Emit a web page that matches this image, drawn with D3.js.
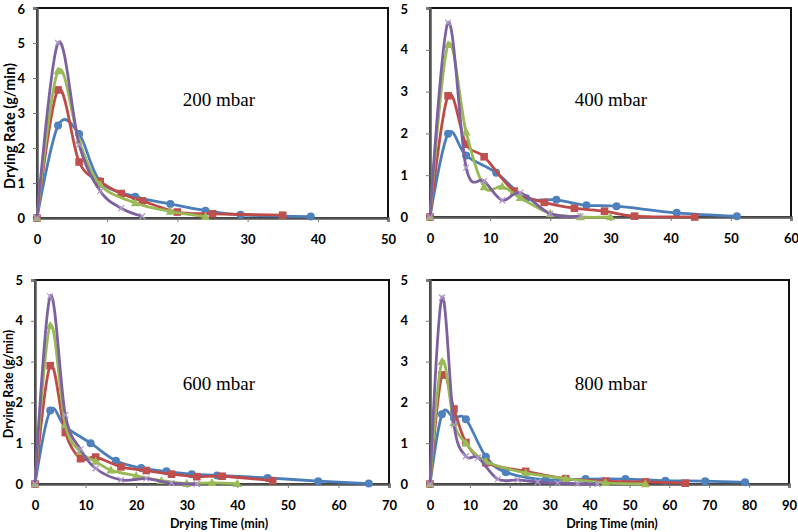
<!DOCTYPE html>
<html><head><meta charset="utf-8">
<script src="https://cdn.jsdelivr.net/npm/d3@7/dist/d3.min.js"></script>
<style>
body{margin:0;background:#fff;}
svg{display:block;}
.tick text{font-family:Lato,"Open Sans",sans-serif;font-weight:bold;}
</style></head>
<body>
<svg id="chart" width="798" height="532"></svg>
<script>
// ---------- data ----------
const panelTitles = ["200 mbar", "400 mbar", "600 mbar", "800 mbar"];
const xMaxes = [50, 60, 70, 90];
const yMaxes = [6, 5, 5, 5];
const xTitles = ["", "", "Drying Time (min)", "Dring Time (min)"];
const yTitles = ["Drying Rate (g/min)", "", "Drying Rate (g/min)", ""];

// 200 mbar  [time (min), rate (g/min)]
const blue200   = [[0,0],[3,2.64],[6,2.4],[9,1.05],[14,0.61],[19,0.4],[24,0.21],[29,0.09],[39,0.04]];
const red200    = [[0,0],[3,3.66],[6,1.6],[9,1.04],[12,0.7],[15,0.49],[20,0.17],[25,0.12],[35,0.08]];
const green200  = [[0,0],[3,4.2],[6,2.2],[9,0.95],[14,0.43],[19,0.19],[24,0.04]];
const purple200 = [[0,0],[3,5.0],[6,2.1],[9,0.77],[12,0.28],[15,0.05]];

// 400 mbar
const blue400   = [[0,0],[3,1.99],[6,1.47],[11,1.06],[16,0.45],[21,0.41],[26,0.28],[31,0.26],[41,0.1],[51,0.02]];
const red400    = [[0,0],[3,2.9],[6,1.74],[9,1.44],[14,0.62],[19,0.35],[24,0.21],[29,0.14],[34,0.02],[44,0]];
const green400  = [[0,0],[3,4.12],[6,2.03],[9,0.72],[12,0.73],[15,0.46],[20,0.08],[25,0],[30,0]];
const purple400 = [[0,0],[3,4.65],[6,1.18],[9,0.86],[12,0.4],[15,0.58],[20,0.08],[25,0.02]];

// 600 mbar
const blue600   = [[0,0],[3,1.8],[6,1.4],[11,1.0],[16,0.57],[21,0.39],[26,0.31],[31,0.24],[36,0.21],[46,0.15],[56,0.07],[66,0.01]];
const red600    = [[0,0],[3,2.9],[6,1.26],[9,0.62],[12,0.66],[17,0.42],[22,0.33],[27,0.24],[32,0.18],[37,0.19],[47,0.08]];
const green600  = [[0,0],[3,3.88],[6,1.45],[9,0.79],[12,0.55],[15,0.34],[20,0.2],[25,0.08],[30,0.01],[35,0.03],[40,0.01]];
const purple600 = [[0,0],[3,4.6],[6,1.69],[9,0.85],[12,0.38],[17,0.1],[22,0.13],[27,0.02],[32,0]];

// 800 mbar
const blue800   = [[0,0],[3,1.71],[6,1.62],[9,1.59],[14,0.67],[19,0.29],[29,0.1],[39,0.12],[49,0.12],[59,0.08],[69,0.07],[79,0.04]];
const red800    = [[0,0],[3,2.67],[6,1.84],[9,1.02],[14,0.52],[24,0.31],[34,0.13],[44,0.07],[54,0.05],[64,0.02]];
const green800  = [[0,0],[3,3.0],[6,1.5],[9,1.0],[14,0.55],[24,0.27],[34,0.13],[44,0.03],[54,0]];
const purple800 = [[0,0],[3,4.57],[6,1.45],[9,0.68],[12,0.65],[17,0.12],[22,0.1],[27,0.05],[32,0.02],[37,0.01],[42,0]];

const panelSeries = [
  [blue200, red200, green200, purple200],
  [blue400, red400, green400, purple400],
  [blue600, red600, green600, purple600],
  [blue800, red800, green800, purple800]
];

// ---------- layout & style ----------
const layout = [
  {l:37,  r:388, t:8,   b:218, title:[219,106], ylab:[9,126],  ylabSize:14.5},
  {l:430, r:791, t:8,   b:217, title:[611,106]},
  {l:35,  r:389, t:280, b:484, title:[219,390], ylab:[8,384], ylabSize:12.5, xlab:[219,528]},
  {l:430, r:789, t:280, b:484, title:[611,390], xlab:[612,528]}
];
const styles = [
  {line:"#4A7EBB", fill:"#4F81BD", shape:"circle"},
  {line:"#BE4B48", fill:"#C0504D", shape:"square"},
  {line:"#98B954", fill:"#9BBB59", shape:"triangle"},
  {line:"#7D60A0", fill:"#B09CC8", shape:"x"}
];

const svg = d3.select("#chart");

layout.forEach((L, i) => {
  const x = d3.scaleLinear().domain([0, xMaxes[i]]).range([L.l, L.r]);
  const y = d3.scaleLinear().domain([0, yMaxes[i]]).range([L.b, L.t]);
  const g = svg.append("g");

  // frame
  g.append("rect").attr("x", L.l).attr("y", L.t)
    .attr("width", L.r - L.l).attr("height", L.b - L.t)
    .attr("fill", "none").attr("stroke", "#111").attr("stroke-width", 2);

  // axes
  const xa = g.append("g").attr("transform", `translate(0,${L.b})`)
    .call(d3.axisBottom(x).ticks(xMaxes[i] / 10).tickSize(4).tickPadding(13));
  const ya = g.append("g").attr("transform", `translate(${L.l},0)`)
    .call(d3.axisLeft(y).ticks(yMaxes[i]).tickSize(4).tickPadding(i % 2 === 0 ? 8 : 18));
  [xa, ya].forEach(a => {
    a.select(".domain").attr("stroke", "#555").attr("stroke-width", 2.5);
    a.selectAll(".tick line").attr("stroke", "#777").attr("stroke-width", 1);
    a.selectAll(".tick text").attr("fill", "#000").attr("font-size", 13);
  });
  if (L.t < 20) {
    ya.selectAll(".tick text").filter(d => d === yMaxes[i]).attr("dy", "0.45em");
  }

  // series
  const line = d3.line().x(d => x(d[0])).y(d => y(d[1])).curve(d3.curveCatmullRom.alpha(0));
  panelSeries[i].forEach((data, s) => {
    const st = styles[s];
    const sg = g.append("g");
    sg.append("path").attr("d", line(data)).attr("fill", "none")
      .attr("stroke", st.line).attr("stroke-width", 2.8).attr("stroke-linejoin", "round");
    const m = sg.selectAll("g.m").data(data).join("g")
      .attr("transform", d => `translate(${x(d[0])},${y(d[1])})`);
    if (st.shape === "circle") {
      m.append("circle").attr("r", 4).attr("fill", st.fill);
    } else if (st.shape === "square") {
      m.append("rect").attr("x", -3.8).attr("y", -3.8).attr("width", 7.6).attr("height", 7.6).attr("fill", st.fill);
    } else if (st.shape === "triangle") {
      m.append("path").attr("d", "M0,-4.8L4.5,3.3L-4.5,3.3Z").attr("fill", st.fill);
    } else {
      m.append("path").attr("d", "M-3,-3L3,3M-3,3L3,-3").attr("stroke", st.fill).attr("stroke-width", 1.2);
    }
  });

  // panel label
  g.append("text").attr("x", L.title[0]).attr("y", L.title[1])
    .attr("text-anchor", "middle").attr("font-family", "'Liberation Serif','Times New Roman',serif")
    .attr("font-size", 19).text(panelTitles[i]);

  if (L.ylab) {
    g.append("text").attr("transform", `translate(${L.ylab[0]},${L.ylab[1]}) rotate(-90)`)
      .attr("text-anchor", "middle").attr("dominant-baseline", "central")
      .attr("font-family", "Lato,'Open Sans',sans-serif").attr("font-weight", "bold")
      .attr("font-size", L.ylabSize).text(yTitles[i]);
  }
  if (L.xlab) {
    g.append("text").attr("x", L.xlab[0]).attr("y", L.xlab[1])
      .attr("text-anchor", "middle")
      .attr("font-family", "Lato,'Open Sans',sans-serif").attr("font-weight", "bold")
      .attr("font-size", 12.5).text(xTitles[i]);
  }
});
</script>
</body></html>
